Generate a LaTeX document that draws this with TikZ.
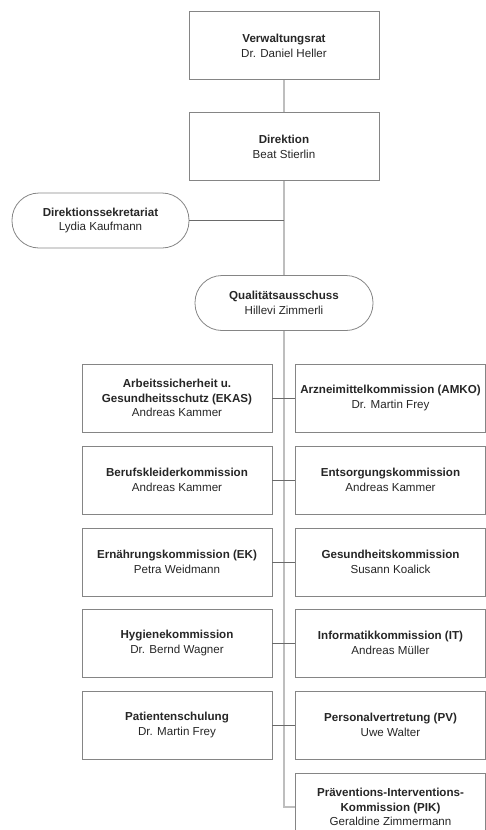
\documentclass[tikz,border=0pt]{standalone}
\usepackage{fontspec}
\setmainfont{Liberation Sans}
\usetikzlibrary{positioning}
\definecolor{boxline}{HTML}{858585}
\definecolor{spinegray}{HTML}{BEBEBE}
\definecolor{linkgray}{HTML}{6A6A6A}
\begin{document}
\begin{tikzpicture}[x=1pt,y=-1pt]
	\tikzstyle{every node}=[font=\fontsize{11.6}{14.8}\selectfont, text=black!85, align=center]
	\tikzstyle{unit}=[draw=boxline, line width=0.8pt, minimum width=190pt, minimum height=68pt, inner sep=2pt]
	\tikzstyle{pill}=[draw=boxline, line width=0.8pt, rounded corners=27pt, minimum width=178pt, minimum height=55pt]
	\tikzstyle{spine}=[draw=spinegray, line width=1.8pt]
	\tikzstyle{link}=[draw=linkgray, line width=0.7pt]
	\useasboundingbox (0,0) rectangle (486,830);
	\clip (0,0) rectangle (486,830);
	% Leitung
	\node [unit] (vr) at (284,45.5) {\textbf{Verwaltungsrat}\\Dr. Daniel Heller};
	\node [unit] (dir) at (284,146.5) {\textbf{Direktion}\\Beat Stierlin};
	\node [pill, minimum width=177pt] (sek) at (100.5,220.5) {\textbf{Direktionssekretariat}\\Lydia Kaufmann};
	\node [pill] (qa) at (284,303) {\textbf{Qualitätsausschuss}\\Hillevi Zimmerli};
	% Kommissionen links
	\node [unit] (ekas) at (177,398) {\textbf{Arbeitssicherheit u.}\\\textbf{Gesundheitsschutz (EKAS)}\\Andreas Kammer};
	\node [unit] (bkk) at (177,480) {\textbf{Berufskleiderkommission}\\Andreas Kammer};
	\node [unit] (ek) at (177,562) {\textbf{Ernährungskommission (EK)}\\Petra Weidmann};
	\node [unit] (hyg) at (177,643) {\textbf{Hygienekommission}\\Dr. Bernd Wagner};
	\node [unit] (pat) at (177,725) {\textbf{Patientenschulung}\\Dr. Martin Frey};
	% Kommissionen rechts
	\node [unit] (amko) at (390.5,398) {\textbf{Arzneimittelkommission (AMKO)}\\Dr. Martin Frey};
	\node [unit] (entsk) at (390.5,480) {\textbf{Entsorgungskommission}\\Andreas Kammer};
	\node [unit] (gk) at (390.5,562) {\textbf{Gesundheitskommission}\\Susann Koalick};
	\node [unit] (it) at (390.5,643) {\textbf{Informatikkommission (IT)}\\Andreas Müller};
	\node [unit] (pv) at (390.5,725) {\textbf{Personalvertretung (PV)}\\Uwe Walter};
	\node [unit] (pik) at (390.5,807) {\textbf{Präventions-Interventions-}\\\textbf{Kommission (PIK)}\\Geraldine Zimmermann};
	% Verbindungen
	\coordinate (sekjoin) at (sek.east -| dir.south);
	\coordinate (pikjoin) at (qa.south |- pik.west);
	\draw [spine] (vr) -- (dir);
	\draw [spine] (dir) -- (qa);
	\draw [spine] (qa) -- (pikjoin) -- (pik.west);
	\draw [link] (sek) -- (sekjoin);
	\draw [link] (ekas) -- (amko);
	\draw [link] (bkk) -- (entsk);
	\draw [link] (ek) -- (gk);
	\draw [link] (hyg) -- (it);
	\draw [link] (pat) -- (pv);
\end{tikzpicture}
\end{document}
